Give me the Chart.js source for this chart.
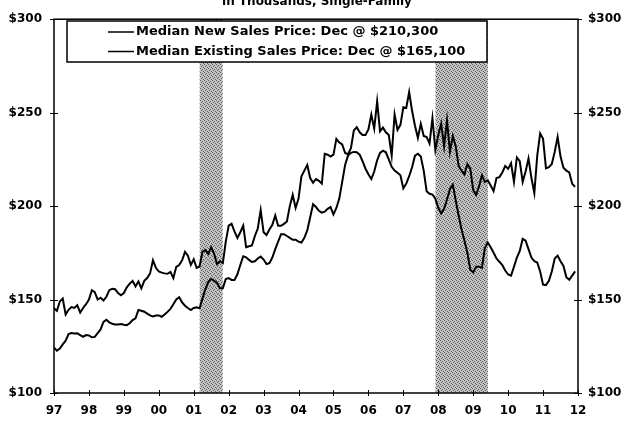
<!DOCTYPE html>
<html>
<head>
<meta charset="utf-8">
<script src="https://cdn.jsdelivr.net/npm/chart.js@4.4.1/dist/chart.umd.min.js"></script>
<style>
  body { margin: 0; background: #fff; }
  #wrap { width: 624px; height: 422px; }
</style>
</head>
<body>
<div id="wrap"><canvas id="chart" width="624" height="422"></canvas></div>
<script>
// monthly, Jan 1997 - Dec 2011, $ thousands
const startYear = 1997;
const newSales = [
  145.3, 144, 149, 150.5, 142, 144.5, 146, 145.5, 147, 143, 145.5, 147.5,
  150, 155, 154, 150, 151, 149.5, 151.5, 155, 155.8, 155.5, 153.5, 152.3,
  153.5, 156.5, 158.5, 160, 157, 159.7, 156, 160, 161.5, 164, 171, 167,
  165, 164.4, 164, 163.8, 164.8, 161.5, 167.5, 168.5, 171, 175.5, 173.5, 168.5,
  171.5, 167, 167.7, 175.5, 176.5, 174.5, 178, 174.5, 169, 170.5, 169.5, 181,
  189.5, 190.5, 186.5, 183, 186, 189.5, 178, 178.5, 179, 184, 188, 197.8,
  186, 184.5, 187.5, 190, 195, 189.5, 189.5, 190.5, 191.8, 200, 206, 199,
  204, 216, 219, 222, 215, 212.5, 214.5, 213.5, 212, 228, 227.5, 226.5,
  227.5, 236, 234, 233, 228.4, 227.8, 231, 240.5, 242.2, 239.5, 238, 238,
  241, 249, 241.5, 256, 240, 242, 239.5, 238, 227, 249, 240.8, 243.5,
  252.9, 252.5, 261, 251, 243, 236.5, 244, 237.5, 237, 233.5, 247, 230,
  238, 244, 232, 246, 229, 237.5, 232, 221.5, 219, 217, 222.5, 220,
  208.5, 206, 210.5, 216.5, 213, 213.8, 211, 208, 215, 215.5, 218, 221.5,
  219.9, 223, 213, 226, 224, 213, 218.5, 225.5, 215, 207, 227, 238.9,
  236, 220.2, 220.8, 222.5, 229, 237, 226.5, 220.5, 219, 218, 212, 210.3
];
const existingSales = [
  124.3, 122.6, 123.8, 126, 128, 131.5, 132.1, 131.9, 132, 131, 130, 131,
  130.8, 129.8, 130, 132, 134, 138, 139.2, 137.8, 137, 136.7, 136.6, 136.9,
  136.5, 136.3, 137.3, 139, 140, 144.4, 144, 143.5, 142.5, 141.5, 141, 141.5,
  141.5, 140.8, 142, 143.4, 145, 147.5, 150, 151.2, 148.5, 146.7, 145.5, 144.4,
  145.5, 145.8, 145.3, 150.5, 155.5, 159.5, 161, 160, 159, 156, 156, 161,
  161.5, 160.5, 160.5, 163.5, 168.5, 173.2, 172.6, 171.2, 170.1, 170.5, 172, 173,
  171.4, 169, 169.5, 172.5, 177, 181, 185, 185, 184, 183, 182, 182,
  181, 180.5, 183, 187, 194, 201, 199.5, 197.5, 196.5, 197, 198.5, 199.5,
  195.5, 199, 204, 213, 222, 227, 228.5, 229, 228.8, 227.5, 224, 220,
  217, 214.5, 218.5, 224.5, 228.5, 229.7, 228.8, 225, 221, 219, 217.8, 216.5,
  209.5, 212, 216, 220.8, 227, 228, 226.5, 219, 208, 206.6, 206.2, 204,
  199, 196, 198.5, 203.5, 209, 211.5, 203, 195, 187.5, 181.5, 175, 166,
  164.5, 167.5, 167.5, 167, 177.5, 180.5, 178, 175, 172, 170.2, 168.5, 165.5,
  163.4, 162.8, 167.5, 172.5, 176, 182.5, 181.5, 177, 172.5, 170.5, 169.8, 165,
  158, 157.7, 160, 165, 172, 173.5, 170.5, 168, 162, 160.6, 162.8, 165.1
];
const yearTicks = [1997, 1998, 1999, 2000, 2001, 2002, 2003, 2004, 2005, 2006, 2007, 2008, 2009, 2010, 2011, 2012];
const yearLabels = ['97', '98', '99', '00', '01', '02', '03', '04', '05', '06', '07', '08', '09', '10', '11', '12'];
const priceTicks = [100, 150, 200, 250, 300];
const recessionStart = [2001.17, 2007.92];
const recessionEnd = [2001.83, 2009.42];
const seriesLabels = [
  'Median New Sales Price: Dec @ $210,300',
  'Median Existing Sales Price: Dec @ $165,100'
];
const subtitle = 'in Thousands, Single-Family';

function toPoints(values) {
  return values.map((v, i) => ({ x: startYear + i / 12, y: v }));
}

const FONT = '"DejaVu Sans", Verdana, sans-serif';

// small stipple tile for the recession bands
function stipple(ctx) {
  const c = document.createElement('canvas');
  c.width = 4; c.height = 4;
  const g = c.getContext('2d');
  g.fillStyle = '#c4c4c4';
  g.fillRect(0, 0, 4, 4);
  g.fillStyle = '#5a5a5a';
  g.fillRect(0, 0, 1, 1);
  g.fillRect(2, 1, 1, 1);
  g.fillRect(1, 2, 1, 1);
  g.fillRect(3, 3, 1, 1);
  return ctx.createPattern(c, 'repeat');
}

const framePlugin = {
  id: 'frame',
  beforeDatasetsDraw(chart) {
    const { ctx, chartArea } = chart;
    const x = chart.scales.x;
    ctx.save();
    ctx.fillStyle = stipple(ctx);
    recessionStart.forEach((s, i) => {
      const x0 = x.getPixelForValue(s);
      const x1 = x.getPixelForValue(recessionEnd[i]);
      ctx.fillRect(x0, chartArea.top, x1 - x0, chartArea.bottom - chartArea.top);
    });
    ctx.restore();
  },
  afterDatasetsDraw(chart) {
    const { ctx, chartArea } = chart;
    const x = chart.scales.x;
    const y = chart.scales.y;
    ctx.save();
    ctx.strokeStyle = '#000';
    ctx.lineWidth = 1.5;
    ctx.strokeRect(chartArea.left, chartArea.top, chartArea.right - chartArea.left, chartArea.bottom - chartArea.top);

    ctx.lineWidth = 1;
    ctx.beginPath();
    priceTicks.forEach(v => {
      const py = Math.round(y.getPixelForValue(v)) + 0.5;
      ctx.moveTo(chartArea.left - 4, py);
      ctx.lineTo(chartArea.left + 4, py);
      ctx.moveTo(chartArea.right - 4, py);
      ctx.lineTo(chartArea.right + 4, py);
    });
    yearTicks.forEach(v => {
      const px = Math.round(x.getPixelForValue(v)) + 0.5;
      ctx.moveTo(px, chartArea.bottom - 3);
      ctx.lineTo(px, chartArea.bottom + 3);
    });
    ctx.stroke();

    // legend box
    const bx = 67, by = 21, bw = 420, bh = 41;
    ctx.fillStyle = '#fff';
    ctx.fillRect(bx, by, bw, bh);
    ctx.lineWidth = 1.5;
    ctx.strokeRect(bx, by, bw, bh);
    ctx.font = 'bold 13px ' + FONT;
    ctx.fillStyle = '#000';
    ctx.textBaseline = 'middle';
    const rows = [32, 51.5];
    seriesLabels.forEach((t, i) => {
      ctx.lineWidth = 1.5;
      ctx.beginPath();
      ctx.moveTo(108, rows[i]);
      ctx.lineTo(134, rows[i]);
      ctx.stroke();
      ctx.fillText(t, 136, rows[i]);
    });

    // clipped subtitle at the very top
    ctx.font = 'bold 12px ' + FONT;
    ctx.textAlign = 'center';
    ctx.textBaseline = 'alphabetic';
    ctx.fillText(subtitle, 317, 5);
    ctx.restore();
  }
};

new Chart(document.getElementById('chart'), {
  type: 'line',
  data: {
    datasets: [
      {
        label: seriesLabels[0],
        data: toPoints(newSales),
        borderColor: '#000',
        borderWidth: 2,
        pointRadius: 0,
        tension: 0
      },
      {
        label: seriesLabels[1],
        data: toPoints(existingSales),
        borderColor: '#000',
        borderWidth: 2,
        pointRadius: 0,
        tension: 0
      }
    ]
  },
  options: {
    responsive: false,
    animation: false,
    layout: { padding: { top: 12, left: 0, right: 0, bottom: 0 } },
    plugins: {
      legend: { display: false },
      tooltip: { enabled: false }
    },
    scales: {
      x: {
        type: 'linear',
        min: 1997,
        max: 2012,
        afterBuildTicks(scale) {
          scale.ticks = yearTicks.map(v => ({ value: v }));
        },
        afterFit(scale) { scale.height = 29; },
        grid: { display: false, drawTicks: false },
        border: { display: false },
        ticks: {
          padding: 11,
          maxRotation: 0,
          autoSkip: false,
          color: '#000',
          font: { family: FONT, size: 12, weight: 'bold' },
          callback: (v) => yearLabels[yearTicks.indexOf(v)]
        }
      },
      y: {
        position: 'left',
        min: 100,
        max: 300,
        afterBuildTicks(scale) {
          scale.ticks = priceTicks.map(v => ({ value: v }));
        },
        afterFit(scale) { scale.width = 54; },
        grid: { display: false, drawTicks: false },
        border: { display: false },
        ticks: {
          padding: 12,
          color: '#000',
          font: { family: FONT, size: 12, weight: 'bold' },
          callback: (v) => '$' + v
        }
      },
      y2: {
        position: 'right',
        min: 100,
        max: 300,
        afterBuildTicks(scale) {
          scale.ticks = priceTicks.map(v => ({ value: v }));
        },
        afterFit(scale) { scale.width = 46; },
        grid: { display: false, drawTicks: false },
        border: { display: false },
        ticks: {
          padding: 10,
          color: '#000',
          font: { family: FONT, size: 12, weight: 'bold' },
          callback: (v) => '$' + v
        }
      }
    }
  },
  plugins: [framePlugin]
});
</script>
</body>
</html>
